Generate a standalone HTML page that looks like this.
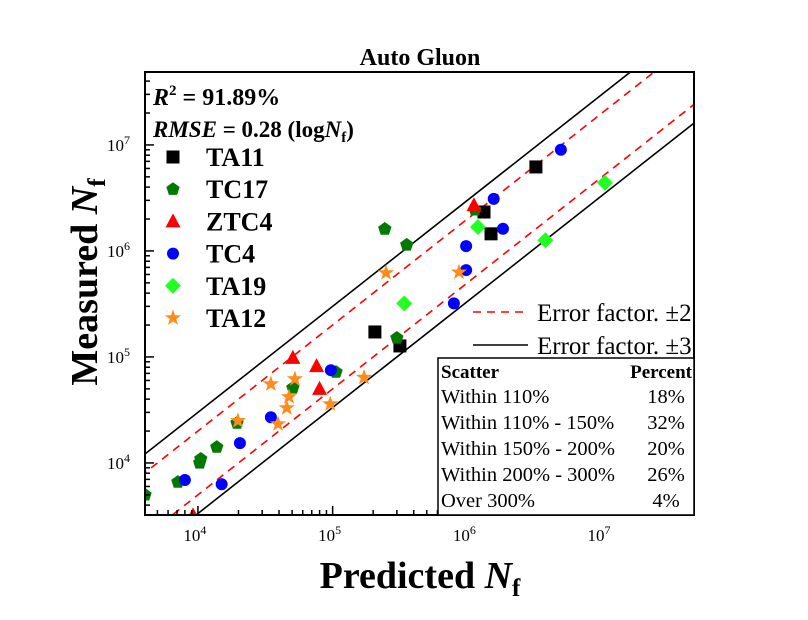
<!DOCTYPE html>
<html><head><meta charset="utf-8"><style>
body{margin:0;background:#fff;}
svg{display:block;font-family:"Liberation Serif",serif;}
</style></head><body>
<svg id="chart" width="808" height="620" xmlns="http://www.w3.org/2000/svg">
<defs><clipPath id="clip"><rect x="145" y="72" width="549" height="443"/></clipPath></defs>
<text x="420" y="65" text-anchor="middle" font-size="24" font-weight="bold">Auto Gluon</text>
<g id="marks" clip-path="url(#clip)"></g>
<g id="axes"></g>
<rect x="145" y="72" width="549" height="443" fill="none" stroke="#000" stroke-width="2"/>
<text x="420" y="588" text-anchor="middle" font-size="38" font-weight="bold">Predicted <tspan font-style="italic">N</tspan><tspan font-size="25" dy="8">f</tspan></text>
<text transform="translate(97,282) rotate(-90)" text-anchor="middle" font-size="38" font-weight="bold">Measured <tspan font-style="italic">N</tspan><tspan font-size="25" dy="8">f</tspan></text>
<text x="153" y="105" font-size="24" font-weight="bold"><tspan font-style="italic">R</tspan><tspan font-size="15" dy="-10">2</tspan><tspan dy="10"> = 91.89%</tspan></text>
<text x="153" y="137" font-size="23" font-weight="bold"><tspan font-style="italic">RMSE</tspan> = 0.28 (log<tspan font-style="italic">N</tspan><tspan font-size="15" dy="5">f</tspan><tspan dy="-5">)</tspan></text>
<g id="legend"></g>
<g>
<line x1="473" y1="312" x2="528" y2="312" stroke="#f00" stroke-width="1.6" stroke-dasharray="8,6"/>
<text x="537" y="321" font-size="25">Error factor. ±2</text>
<line x1="473" y1="345" x2="528" y2="345" stroke="#000" stroke-width="1.6"/>
<text x="537" y="354" font-size="25">Error factor. ±3</text>
</g>
<g font-size="20.5">
<rect x="438" y="358" width="256" height="157" fill="#fff" stroke="#000" stroke-width="1.5"/>
<text x="441" y="378" font-weight="bold" font-size="19">Scatter</text><text x="692" y="378" font-weight="bold" font-size="19" text-anchor="end">Percent</text>
<text x="441" y="403">Within 110%</text><text x="666" y="403" text-anchor="middle">18%</text>
<text x="441" y="429">Within 110% - 150%</text><text x="666" y="429" text-anchor="middle">32%</text>
<text x="441" y="455">Within 150% - 200%</text><text x="666" y="455" text-anchor="middle">20%</text>
<text x="441" y="481">Within 200% - 300%</text><text x="666" y="481" text-anchor="middle">26%</text>
<text x="441" y="507">Over 300%</text><text x="666" y="507" text-anchor="middle">4%</text>
</g>
</svg>
<script>
const seriesNames=["TA11","TC17","ZTC4","TC4","TA19","TA12"];
const ta11X=[2.06e5,3.16e5,1.33e6,1.5e6,3.23e6];
const ta11Y=[1.72e5,1.27e5,2.33e6,1.45e6,6.2e6];
const tc17X=[4.05e3,7.1e3,1.03e4,1.05e4,1.38e4,1.95e4,5.07e4,1.06e5,2.44e5,3.55e5,3.0e5,1.14e6];
const tc17Y=[5.0e3,6.6e3,1.0e4,1.09e4,1.41e4,2.38e4,5.1e4,7.2e4,1.61e6,1.14e6,1.51e5,2.44e6];
const ztc4X=[5.07e4,7.6e4,8.0e4,1.12e6,9.2e3];
const ztc4Y=[9.8e4,8.2e4,5.0e4,2.7e6,3.2e3];
const tc4X=[8.0e3,1.5e4,2.05e4,3.48e4,9.7e4,7.95e5,9.8e5,9.8e5,1.57e6,1.84e6,4.95e6];
const tc4Y=[6.9e3,6.3e3,1.54e4,2.7e4,7.5e4,3.2e5,6.6e5,1.11e6,3.1e6,1.62e6,9.0e6];
const ta19X=[3.4e5,1.2e6,3.8e6,1.05e7];
const ta19Y=[3.2e5,1.68e6,1.26e6,4.4e6];
const ta12X=[1.98e4,3.48e4,3.93e4,4.57e4,4.74e4,5.25e4,9.6e4,1.71e5,2.49e5,8.67e5];
const ta12Y=[2.5e4,5.55e4,2.33e4,3.3e4,4.2e4,6.2e4,3.6e4,6.4e4,6.2e5,6.3e5];
const xTickLabels=["4","5","6","7"];
const yTickLabels=["4","5","6","7"];
const errorFactors=[2,3];

const NS="http://www.w3.org/2000/svg";
const X0=145,X1=694,Y0=515,Y1=72;
const xMin=3.607,xMax=7.683,yMin=3.509,yMax=7.688;
function sx(v){return X0+(Math.log10(v)-xMin)/(xMax-xMin)*(X1-X0);}
function sy(v){return Y0-(Math.log10(v)-yMin)/(yMax-yMin)*(Y0-Y1);}
function mk(tag,attrs,parent){const e=document.createElementNS(NS,tag);for(const k in attrs)e.setAttribute(k,attrs[k]);parent.appendChild(e);return e;}
const marks=document.getElementById('marks'),axes=document.getElementById('axes'),legend=document.getElementById('legend');

errorFactors.forEach(f=>{
  [f,1/f].forEach((m,i)=>{
    const a=Math.pow(10,xMin-0.2),b=Math.pow(10,xMax+0.2);
    const ln=mk('line',{x1:sx(a),y1:sy(a*m),x2:sx(b),y2:sy(b*m),stroke:f===2?'#f00':'#000','stroke-width':1.6,'stroke-dasharray':f===2?'8,6':'none'},marks);
    
    
  });
});

function shape(type,cx,cy,parent){
  const s=6.5;let e;
  if(type==='square')e=mk('rect',{x:cx-s,y:cy-s,width:2*s,height:2*s,fill:'#000'},parent);
  else if(type==='pent'){let p=[];for(let i=0;i<5;i++){const a=-Math.PI/2+i*2*Math.PI/5;p.push((cx+7*Math.cos(a)).toFixed(1)+','+(cy+7*Math.sin(a)).toFixed(1));}e=mk('polygon',{points:p.join(' '),fill:'#007a00'},parent);}
  else if(type==='tri')e=mk('polygon',{points:`${cx},${cy-8} ${cx-7.5},${cy+6} ${cx+7.5},${cy+6}`,fill:'#f00'},parent);
  else if(type==='circ')e=mk('circle',{cx:cx,cy:cy,r:6,fill:'#00f'},parent);
  else if(type==='diam')e=mk('polygon',{points:`${cx},${cy-8} ${cx+8},${cy} ${cx},${cy+8} ${cx-8},${cy}`,fill:'#2f2'},parent);
  else {let p=[];for(let i=0;i<10;i++){const r=i%2?3.4:8.5,a=-Math.PI/2+i*Math.PI/5;p.push((cx+r*Math.cos(a)).toFixed(1)+','+(cy+r*Math.sin(a)).toFixed(1));}e=mk('polygon',{points:p.join(' '),fill:'#ff8c1a'},parent);}
  return e;
}
const series=[[ta11X,ta11Y,'square'],[tc17X,tc17Y,'pent'],[ztc4X,ztc4Y,'tri'],[tc4X,tc4Y,'circ'],[ta19X,ta19Y,'diam'],[ta12X,ta12Y,'star']];
series.forEach((s,si)=>{
  s[0].forEach((xv,i)=>{
    const e=shape(s[2],sx(xv),sy(s[1][i]),marks);
    
    
  });
  const ly=157+si*32.2;
  const g=mk('g',{},legend);
  
  
  shape(s[2],173,ly,g);
  const t=mk('text',{x:206,y:ly+9,'font-size':26,'font-weight':'bold'},g);t.textContent=seriesNames[si];
});

for(let d=3;d<=7;d++){
  for(let k=1;k<10;k++){
    const v=k*Math.pow(10,d),lv=Math.log10(v);
    if(lv>=xMin&&lv<=xMax){const x=sx(v);const len=k===1?9:5;const t=mk('line',{x1:x,y1:Y0,x2:x,y2:Y0-len,stroke:'#000','stroke-width':1.5},axes);}
    if(lv>=yMin&&lv<=yMax){const y=sy(v);const len=k===1?9:5;const t=mk('line',{x1:X0,y1:y,x2:X0+len,y2:y,stroke:'#000','stroke-width':1.5},axes);}
  }
}
xTickLabels.forEach(e=>{
  const t=mk('text',{x:sx(Math.pow(10,+e))-3,y:541,'font-size':17,'text-anchor':'middle'},axes);
  
  t.innerHTML='10<tspan font-size="12" dy="-7">'+e+'</tspan>';
});
yTickLabels.forEach(e=>{
  const t=mk('text',{x:130,y:sy(Math.pow(10,+e))+6,'font-size':17,'text-anchor':'end'},axes);
  
  t.innerHTML='10<tspan font-size="12" dy="-7">'+e+'</tspan>';
});
</script>
</body></html>
